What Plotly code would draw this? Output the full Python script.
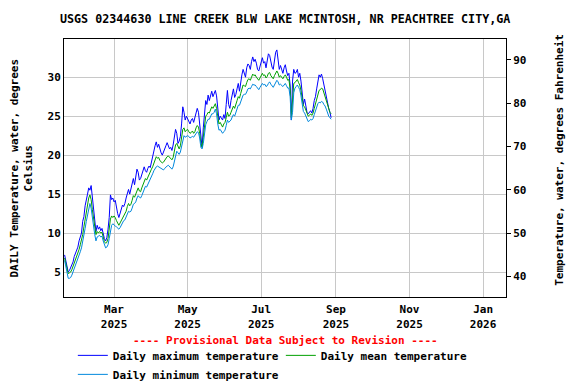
import pandas as pd
import plotly.graph_objects as go

start_date = "2025-01-19"

max_c = [
    7.2, 6.5, 5.5, 5.0, 5.2, 5.5, 6.0, 6.3, 7.0, 7.4,
    7.6, 8.2, 9.0, 9.5, 10.0, 11.5, 12.1, 13.5, 14.5, 15.0,
    15.8, 15.5, 16.1, 14.5, 13.0, 11.5, 10.2, 11.0, 10.5, 10.8,
    10.3, 10.6, 9.8, 9.3, 9.0, 9.4, 10.5, 12.0, 14.9, 14.3,
    14.5, 14.0, 14.2, 13.2, 12.5, 12.0, 12.6, 13.0, 13.6, 13.4,
    13.8, 14.5, 15.2, 15.6, 15.0, 15.8, 16.5, 17.0, 16.2, 17.5,
    18.2, 17.8, 16.8, 17.0, 17.6, 18.2, 18.5, 18.0, 17.8, 18.3,
    18.6, 18.4, 19.2, 20.0, 20.6, 21.2, 21.7, 21.0, 21.4, 20.6,
    20.3, 20.0, 20.5, 21.0, 21.2, 21.6, 21.3, 20.8, 21.0, 20.6,
    21.3, 22.2, 23.3, 22.8, 21.5, 21.8, 22.4, 24.0, 26.2, 25.5,
    24.5, 25.0, 24.7, 24.5, 24.0, 24.5, 24.7, 24.2, 24.8, 25.5,
    26.0, 25.5, 24.0, 22.0, 21.0, 23.5, 26.0, 27.0, 26.5, 27.7,
    27.0, 27.8, 28.2, 27.5, 28.0, 28.3, 27.6, 26.0, 24.5, 25.0,
    24.7, 24.5, 25.2, 24.7, 26.5, 28.3, 26.5, 26.0, 27.0, 28.0,
    28.5, 27.4, 27.8, 28.5, 29.2, 28.2, 29.5, 30.3, 31.0, 30.5,
    30.0, 31.2, 31.7, 31.5, 31.0, 32.0, 32.6, 32.0, 32.3, 31.8,
    31.0, 30.8, 31.5, 32.2, 32.5, 31.8, 32.0, 31.2, 32.2, 33.0,
    32.8, 31.8, 31.3, 31.0, 32.0, 33.2, 33.5, 32.5, 31.0, 31.5,
    30.8, 30.5, 31.2, 31.6, 30.8, 30.2, 30.5, 29.0, 24.5, 29.5,
    31.0, 30.5, 30.6, 31.0, 30.0, 30.5, 29.5, 28.0, 26.5, 27.2,
    26.0, 25.5, 25.3, 25.5, 25.7, 25.4, 26.0, 27.0, 27.5, 28.5,
    29.5, 30.3, 30.0, 30.4, 29.8, 29.0, 28.5, 27.5, 26.8, 26.0,
    25.5, 24.8,
]

mean_c = [
    6.8, 6.0, 5.2, 4.8, 4.9, 5.0, 5.3, 5.7, 6.2, 6.6,
    7.0, 7.3, 7.9, 8.5, 9.0, 9.8, 10.8, 11.8, 12.8, 13.8,
    14.5, 14.9, 14.3, 13.0, 12.0, 10.8, 9.8, 10.2, 10.0, 10.2,
    10.0, 10.1, 9.5, 8.9, 8.7, 8.8, 9.3, 10.5, 11.8, 12.2,
    12.0, 12.2, 12.0, 11.6, 11.3, 11.0, 11.3, 11.6, 12.0, 12.2,
    12.4, 12.8, 13.4, 13.8, 13.5, 13.7, 14.2, 14.8, 14.6, 15.0,
    15.6, 15.8, 15.4, 15.3, 15.8, 16.2, 16.8, 17.0, 16.8, 17.2,
    17.6, 18.0, 18.2, 18.5, 18.9, 19.4, 19.8, 19.6, 19.7, 19.3,
    19.2, 19.0, 19.1, 19.4, 19.6, 19.8, 19.9, 19.7, 19.5, 19.4,
    19.7, 20.5, 21.3, 21.5, 21.0, 20.8, 21.2, 22.2, 23.3, 23.5,
    23.0, 23.2, 23.3, 23.0, 22.8, 22.9, 23.1, 22.8, 23.0, 23.5,
    23.8, 23.6, 22.8, 21.5, 21.0, 22.3, 24.0, 25.0, 25.2, 25.5,
    25.4, 25.8, 26.2, 26.0, 26.3, 26.6, 26.0, 25.0, 24.0, 24.2,
    23.8, 23.6, 24.0, 24.2, 24.8, 25.5, 25.0, 25.1, 25.5, 26.0,
    26.3, 26.0, 26.4, 27.0, 27.5, 27.3, 27.9, 28.5, 29.0, 28.9,
    28.8, 29.3, 29.7, 29.8, 29.6, 30.0, 30.4, 30.2, 30.3, 30.0,
    29.7, 29.6, 29.9, 30.3, 30.5, 30.2, 30.3, 29.9, 30.1, 30.5,
    30.6, 30.2, 29.9, 29.8, 30.2, 30.6, 30.8, 30.5, 30.0, 30.2,
    29.9, 29.8, 30.1, 30.3, 30.0, 29.6, 29.7, 28.5, 24.8, 27.0,
    29.2, 29.3, 29.5, 29.7, 29.3, 29.0, 28.3, 27.2, 26.3, 26.2,
    25.7, 25.3, 25.0, 25.1, 25.3, 25.1, 25.4, 26.0, 26.6, 27.2,
    27.8, 28.3, 28.4, 28.6, 28.5, 28.0, 27.6, 27.0, 26.4, 25.9,
    25.5, 25.3,
]

min_c = [
    6.5, 5.6, 4.6, 4.2, 4.2, 4.3, 4.6, 5.0, 5.4, 5.9,
    6.3, 6.6, 7.2, 7.6, 8.1, 8.8, 9.6, 10.6, 11.5, 12.3,
    13.2, 13.8, 13.2, 11.8, 10.8, 9.8, 9.0, 9.5, 9.6, 9.7,
    9.5, 9.6, 9.0, 8.4, 8.1, 8.2, 8.5, 9.3, 10.2, 11.0,
    11.2, 11.0, 10.9, 10.8, 10.7, 10.5, 10.7, 11.0, 11.4, 11.6,
    11.7, 12.0, 12.4, 12.8, 12.7, 12.8, 13.2, 13.7, 13.8, 14.0,
    14.5, 14.8, 14.6, 14.5, 14.8, 15.2, 15.6, 16.0, 15.9, 16.2,
    16.6, 17.0, 17.3, 17.6, 18.0, 18.3, 18.5, 18.6, 18.5, 18.3,
    18.3, 18.2, 18.1, 18.3, 18.5, 18.6, 18.7, 18.5, 18.3, 18.2,
    18.5, 19.2, 20.0, 20.5, 20.3, 20.1, 20.4, 21.2, 22.0, 22.5,
    22.3, 22.4, 22.5, 22.4, 22.2, 22.3, 22.4, 22.3, 22.5, 22.8,
    23.0, 22.9, 22.2, 21.0, 20.8, 21.5, 22.8, 23.9, 24.3, 24.6,
    24.6, 25.0, 25.3, 25.3, 25.5, 25.9, 25.3, 24.0, 23.2, 23.3,
    23.0, 22.8, 23.0, 23.2, 23.8, 24.5, 24.2, 24.3, 24.5, 24.9,
    25.2, 25.0, 25.4, 25.9, 26.4, 26.4, 26.8, 27.3, 27.7, 27.8,
    27.8, 28.1, 28.5, 28.6, 28.5, 28.8, 29.1, 29.0, 29.0, 28.8,
    28.5, 28.4, 28.7, 29.0, 29.2, 29.0, 29.1, 28.8, 28.9, 29.2,
    29.4, 29.1, 28.8, 28.7, 29.0, 29.4, 29.6, 29.4, 29.0, 29.1,
    28.9, 28.8, 29.0, 29.2, 28.9, 28.6, 28.6, 27.5, 24.5, 25.5,
    28.0, 28.6, 28.8, 29.0, 28.7, 28.4, 27.6, 26.5, 25.6, 25.4,
    25.0, 24.6, 24.3, 24.4, 24.6, 24.5, 24.7, 25.2, 25.7, 26.2,
    26.6, 26.8, 26.7, 26.9, 26.8, 26.5, 26.3, 25.9, 25.4, 25.0,
    24.8, 24.6,
]

assert len(max_c) == len(mean_c) == len(min_c)
dates = pd.date_range(start_date, periods=len(max_c), freq="D")

tick_dates = ["2025-03-01", "2025-05-01", "2025-07-01", "2025-09-01", "2025-11-01", "2026-01-01"]
tick_text = ["Mar<br>2025", "May<br>2025", "Jul<br>2025", "Sep<br>2025", "Nov<br>2025", "Jan<br>2026"]
c_ticks = [5, 10, 15, 20, 25, 30]
f_ticks = [40, 50, 60, 70, 80, 90]
c_range = [1.8, 34.9]
f_range = [c * 9 / 5 + 32 for c in c_range]

FONT = "DejaVu Sans Mono"

fig = go.Figure()
fig.add_trace(go.Scatter(x=dates, y=max_c, mode="lines", name="Daily maximum temperature",
                         line=dict(color="#0000FF", width=1)))
fig.add_trace(go.Scatter(x=dates, y=mean_c, mode="lines", name="Daily mean temperature",
                         line=dict(color="#00A000", width=1)))
fig.add_trace(go.Scatter(x=dates, y=min_c, mode="lines", name="Daily minimum temperature",
                         line=dict(color="#0088DD", width=1)))
# empty trace so the Fahrenheit axis is drawn
fig.add_trace(go.Scatter(x=[], y=[], yaxis="y2", showlegend=False, hoverinfo="skip"))

# the page body offsets the figure by 8px at top/left, so the figure is 8px smaller there
fig.update_layout(
    width=568, height=376,
    margin=dict(l=56, r=70, t=31, b=87, autoexpand=False),
    paper_bgcolor="white", plot_bgcolor="white",
    font=dict(family=FONT, size=11, color="black", weight="bold"),
    showlegend=True,
    legend=dict(orientation="h", x=0.02, xanchor="left", y=-0.17, yanchor="top",
                font=dict(family=FONT, size=11, color="black", weight="bold"),
                entrywidth=163, entrywidthmode="pixels", itemwidth=30,
                tracegroupgap=0, bgcolor="rgba(0,0,0,0)"),
    xaxis=dict(range=["2025-01-18 12:00", "2026-01-20"], tickvals=tick_dates, ticktext=tick_text,
               showgrid=True, gridcolor="#C8C8C8", gridwidth=1, ticks="", ticklabelstandoff=2,
               showline=True, linecolor="black", linewidth=1, mirror=True, zeroline=False,
               tickfont=dict(family=FONT, size=11, weight="bold")),
    yaxis=dict(range=c_range, tickvals=c_ticks, showgrid=True, gridcolor="#C8C8C8", gridwidth=1,
               showline=True, linecolor="black", linewidth=1, mirror=True, zeroline=False,
               ticks="", tickfont=dict(family=FONT, size=11, weight="bold")),
    yaxis2=dict(range=f_range, tickvals=f_ticks, overlaying="y", side="right", showgrid=False,
                ticks="outside", ticklen=4, tickcolor="black", zeroline=False, showline=False,
                tickfont=dict(family=FONT, size=11, weight="bold")),
    annotations=[
        dict(text="USGS 02344630 LINE CREEK BLW LAKE MCINTOSH, NR PEACHTREE CITY,GA",
             xref="paper", yref="paper", x=0.5, y=1, yshift=20, xanchor="center", yanchor="middle",
             showarrow=False, font=dict(family=FONT, size=11.7, weight="bold")),
        dict(text="---- Provisional Data Subject to Revision ----",
             xref="paper", yref="paper", x=0.5, y=0, yshift=-43, xanchor="center", yanchor="middle",
             showarrow=False, font=dict(family=FONT, size=11, color="red", weight="bold")),
        dict(text="DAILY Temperature, water, degrees<br>Celsius",
             xref="paper", yref="paper", x=0, y=0.5, xshift=-28, xanchor="right", yanchor="middle",
             textangle=-90, showarrow=False, font=dict(family=FONT, size=11, weight="bold")),
        dict(text="Temperature, water, degrees Fahrenheit",
             xref="paper", yref="paper", x=1, y=0.53, xshift=45, xanchor="left", yanchor="middle",
             textangle=-90, showarrow=False, font=dict(family=FONT, size=11, weight="bold")),
    ],
)

fig.write_html("out.html")
